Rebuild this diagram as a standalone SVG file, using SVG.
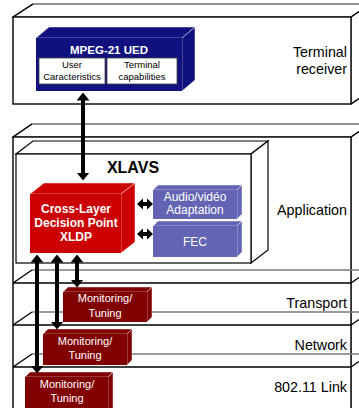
<svg xmlns="http://www.w3.org/2000/svg" width="359" height="408" viewBox="0 0 359 408">
<style>
.frame{fill:#fff;stroke:#000;stroke-width:1.4}
.back{fill:none;stroke:#7a7a7a;stroke-width:1.4}
.edge{fill:none;stroke:#000;stroke-width:1.4}
.shell{fill:#fff;stroke:#000;stroke-width:1.2}
.gshell{fill:#fff;stroke:#6e6e6e;stroke-width:1.3}
.face{stroke:#fff;stroke-opacity:0.55;stroke-width:0.8}
.navy{fill:#10107e}
.red{fill:#cc0000}
.blue{fill:#6464b4}
.maroon{fill:#800000}
.lbl{font-family:"Liberation Sans",Arial,sans-serif;font-size:14.3px;fill:#000;text-anchor:end}
.wt{font-family:"Liberation Sans",Arial,sans-serif;fill:#fff;text-anchor:middle}
.bt{font-family:"Liberation Sans",Arial,sans-serif;fill:#000;text-anchor:middle}
.arr{stroke:#000;stroke-width:4;fill:none}
</style>
<defs>
<marker id="ah" viewBox="0 0 8 13" refX="0.5" refY="6.5" markerWidth="8" markerHeight="13" markerUnits="userSpaceOnUse" orient="auto-start-reverse">
<path d="M0,0 L8,6.5 L0,13 Z" fill="#000"/>
</marker>
</defs>

<g id="terminal-receiver">
<polygon class="gshell" points="13,17 33,4 371,4 351,17"/>
<polygon class="gshell" points="351,17 371,4 371,91 351,104"/>
<path class="edge" d="M13,17 L33,4 M351,17 L359,11.5 M351,104 L359,98.5"/>
<rect class="frame" x="13" y="17" width="338" height="87"/>
<text class="lbl" x="347" y="57">Terminal</text>
<text class="lbl" x="347" y="74">receiver</text>
</g>

<g id="layer-stack">
<polygon class="gshell" points="13,137 32,124 371,124 351,137"/>
<polygon class="gshell" points="351,137 371,124 371,420 351,420"/>
<path class="edge" d="M13,137 L32,124 M351,137 L359,131.5"/>
<rect class="frame" x="13" y="137" width="338" height="290"/>
<path class="back" d="M32,270 H359 M32,312 H359 M32,354 H359"/>
<path class="edge" d="M13,283 H351 M13,283 L32,270 M351,283 L359,277.5 M13,325 H351 M13,325 L32,312 M351,325 L359,319.5 M13,367 H351 M13,367 L32,354 M351,367 L359,361.5"/>
</g>

<g id="application-label"><text class="lbl" x="347" y="215">Application</text></g>
<g id="transport-label"><text class="lbl" x="347" y="308">Transport</text></g>
<g id="network-label"><text class="lbl" x="347" y="350">Network</text></g>
<g id="link-label"><text class="lbl" x="347" y="392">802.11 Link</text></g>

<g id="xlavs">
<polygon class="shell" points="16,154 33,141 268,141 251,154"/>
<polygon class="shell" points="251,154 268,141 268,250 251,263"/>
<rect class="shell" x="16" y="154" width="235" height="109"/>
<text class="bt" x="133" y="173" font-size="16" font-weight="bold">XLAVS</text>
</g>

<g id="mpeg21-ued">
<polygon class="navy face" points="36,38 49,27 195,27 182,38"/>
<polygon class="navy face" points="182,38 195,27 195,80 182,91"/>
<rect class="navy" x="36" y="38" width="146" height="53"/>
<text class="wt" x="109" y="54" font-size="11.5" font-weight="bold">MPEG-21 UED</text>
<rect x="39" y="58" width="66" height="26" fill="#fff" stroke="#444" stroke-width="0.8"/>
<rect x="107" y="58" width="70" height="26" fill="#fff" stroke="#444" stroke-width="0.8"/>
<text class="bt" x="72" y="68" font-size="9.5">User</text>
<text class="bt" x="72" y="80" font-size="9.5">Caracteristics</text>
<text class="bt" x="142" y="68" font-size="9.5">Terminal</text>
<text class="bt" x="142" y="80" font-size="9.5">capabilities</text>
</g>

<g id="xldp">
<polygon class="red face" points="30,194 44,183 135,183 121,194"/>
<polygon class="red face" points="121,194 135,183 135,242 121,253"/>
<rect class="red" x="30" y="194" width="91" height="59"/>
<text class="wt" x="76" y="213" font-size="12" font-weight="bold">Cross-Layer</text>
<text class="wt" x="76" y="227" font-size="12" font-weight="bold">Decision Point</text>
<text class="wt" x="76" y="241" font-size="12" font-weight="bold">XLDP</text>
</g>

<g id="audio-video-adaptation">
<polygon class="blue face" points="153,190 158,185 242,185 237,190"/>
<polygon class="blue face" points="237,190 242,185 242,214 237,219"/>
<rect class="blue" x="153" y="190" width="84" height="29"/>
<text class="wt" x="195" y="201" font-size="12">Audio/vidéo</text>
<text class="wt" x="195" y="214" font-size="12">Adaptation</text>
</g>

<g id="fec">
<polygon class="blue face" points="153,226 158,221 242,221 237,226"/>
<polygon class="blue face" points="237,226 242,221 242,252 237,257"/>
<rect class="blue" x="153" y="226" width="84" height="31"/>
<text class="wt" x="195" y="246" font-size="12">FEC</text>
</g>

<g id="monitoring-transport">
<polygon class="maroon face" points="63,292 68,287 152,287 147,292"/>
<polygon class="maroon face" points="147,292 152,287 152,317 147,322"/>
<rect class="maroon" x="63" y="292" width="84" height="30"/>
<text class="wt" x="105" y="302" font-size="11">Monitoring/</text>
<text class="wt" x="105" y="317" font-size="11">Tuning</text>
</g>

<g id="monitoring-network">
<polygon class="maroon face" points="43,334 48,329 132,329 127,334"/>
<polygon class="maroon face" points="127,334 132,329 132,360 127,365"/>
<rect class="maroon" x="43" y="334" width="84" height="31"/>
<text class="wt" x="85" y="345" font-size="11">Monitoring/</text>
<text class="wt" x="85" y="359" font-size="11">Tuning</text>
</g>

<g id="monitoring-link">
<polygon class="maroon face" points="25,377 30,372 113,372 108,377"/>
<polygon class="maroon face" points="108,377 113,372 113,410 108,410"/>
<rect class="maroon" x="25" y="377" width="83" height="35"/>
<text class="wt" x="67" y="388" font-size="11">Monitoring/</text>
<text class="wt" x="67" y="402" font-size="11">Tuning</text>
</g>

<g id="connectors">
<line class="arr" x1="83" y1="100" x2="83" y2="173" marker-start="url(#ah)" marker-end="url(#ah)"/>
<line class="arr" x1="77" y1="262" x2="77" y2="280" marker-start="url(#ah)" marker-end="url(#ah)"/>
<line class="arr" x1="57" y1="262" x2="57" y2="322" marker-start="url(#ah)" marker-end="url(#ah)"/>
<line class="arr" x1="37" y1="262" x2="37" y2="366" marker-start="url(#ah)" marker-end="url(#ah)"/>
<path d="M137,204 L143,198.5 L143,202 L147,202 L147,198.5 L153,204 L147,209.5 L147,206 L143,206 L143,209.5 Z" fill="#000"/>
<path d="M137,234 L143,228.5 L143,232 L147,232 L147,228.5 L153,234 L147,239.5 L147,236 L143,236 L143,239.5 Z" fill="#000"/>
</g>
</svg>
